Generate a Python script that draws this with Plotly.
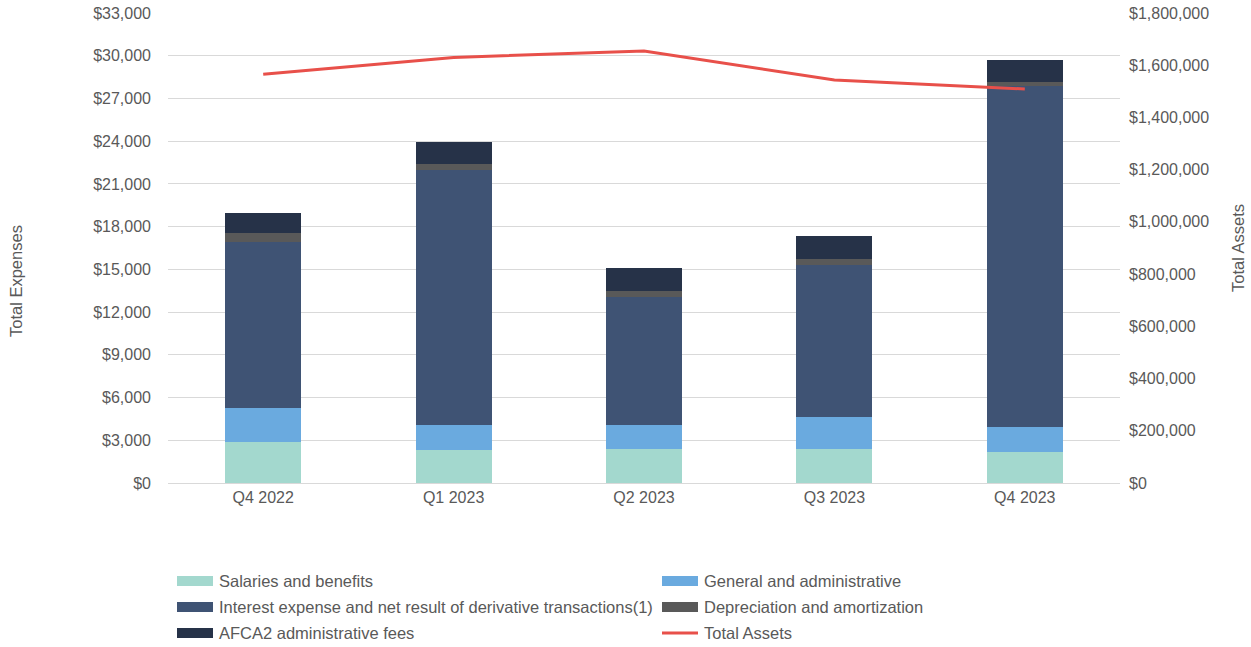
import plotly.graph_objects as go

quarters = ["Q4 2022", "Q1 2023", "Q2 2023", "Q3 2023", "Q4 2023"]
salaries = [2900, 2320, 2370, 2370, 2160]
general_admin = [2345, 1755, 1705, 2245, 1795]
interest_deriv = [11700, 17900, 9010, 10690, 23920]
depreciation = [630, 420, 380, 400, 300]
afca2_fees = [1405, 1565, 1615, 1635, 1525]
total_assets = [1565000, 1630000, 1654500, 1543500, 1509000]

left_ticks = list(range(0, 33001, 3000))
right_ticks = list(range(0, 1800001, 200000))

TEXT = "#595959"
FONT = "Liberation Sans, Arial, sans-serif"

series = [
    ("Salaries and benefits", salaries, "#A3D8CE"),
    ("General and administrative", general_admin, "#6AAADF"),
    ("Interest expense and net result of derivative transactions(1)", interest_deriv, "#3F5374"),
    ("Depreciation and amortization", depreciation, "#595959"),
    ("AFCA2 administrative fees", afca2_fees, "#263248"),
]
line_color = "#E8504A"

fig = go.Figure()
for name, vals, color in series:
    fig.add_trace(go.Bar(x=quarters, y=vals, name=name, marker_color=color,
                         marker_line_width=0, showlegend=False, yaxis="y"))
fig.add_trace(go.Scatter(x=quarters, y=total_assets, name="Total Assets", mode="lines",
                         line=dict(color=line_color, width=3), showlegend=False, yaxis="y2"))

# plot area geometry in pixels
L, R, T, B = 168, 1120, 13, 483
W, H = R - L, B - T


def px(x):
    return (x - L) / W


def py(y):
    return (B - y) / H


shapes = []
annotations = []
legend_items = [
    (series[0][0], series[0][2], 177, 581, "box"),
    (series[1][0], series[1][2], 662, 581, "box"),
    (series[2][0], series[2][2], 177, 607, "box"),
    (series[3][0], series[3][2], 662, 607, "box"),
    (series[4][0], series[4][2], 177, 633, "box"),
    ("Total Assets", line_color, 662, 633, "line"),
]
for label, color, x0, yc, kind in legend_items:
    if kind == "box":
        shapes.append(dict(type="rect", xref="paper", yref="paper",
                           x0=px(x0), x1=px(x0 + 36), y0=py(yc - 5), y1=py(yc + 5),
                           fillcolor=color, line_width=0))
    else:
        shapes.append(dict(type="line", xref="paper", yref="paper",
                           x0=px(x0), x1=px(x0 + 36), y0=py(yc), y1=py(yc),
                           line=dict(color=color, width=3)))
    annotations.append(dict(text=label, xref="paper", yref="paper", x=px(x0 + 40), y=py(yc),
                            xanchor="left", yanchor="middle", showarrow=False,
                            font=dict(size=16.5, color=TEXT, family=FONT)))

annotations.append(dict(text="Total Expenses", xref="paper", yref="paper", x=px(16), y=py(281),
                        textangle=-90, showarrow=False, xanchor="center", yanchor="middle",
                        font=dict(size=16.5, color=TEXT, family=FONT)))
annotations.append(dict(text="Total Assets", xref="paper", yref="paper", x=px(1238), y=py(248),
                        textangle=-90, showarrow=False, xanchor="center", yanchor="middle",
                        font=dict(size=16.5, color=TEXT, family=FONT)))

fig.update_layout(
    width=1251, height=647,
    margin=dict(l=L, r=1251 - R, t=T, b=647 - B, autoexpand=False),
    barmode="stack", bargap=0.6,
    plot_bgcolor="white", paper_bgcolor="white",
    font=dict(family=FONT, size=16, color=TEXT),
    xaxis=dict(showgrid=False, showline=True, linecolor="#D9D9D9", linewidth=1,
               ticks="", automargin=False, tickfont=dict(size=16, color=TEXT)),
    yaxis=dict(range=[0, 33000], tickvals=left_ticks,
               ticktext=[f"${v:,}" for v in left_ticks],
               gridcolor="#D9D9D9", gridwidth=1, zeroline=False, showline=False,
               ticks="", automargin=False, ticklabelstandoff=16,
               tickfont=dict(size=16, color=TEXT)),
    yaxis2=dict(range=[0, 1800000], tickvals=right_ticks,
                ticktext=[f"${v:,}" for v in right_ticks],
                overlaying="y", side="right", showgrid=False, zeroline=False,
                ticks="", automargin=False, ticklabelstandoff=8,
                tickfont=dict(size=16, color=TEXT)),
    shapes=shapes,
    annotations=annotations,
)

fig.write_html("out.html")
